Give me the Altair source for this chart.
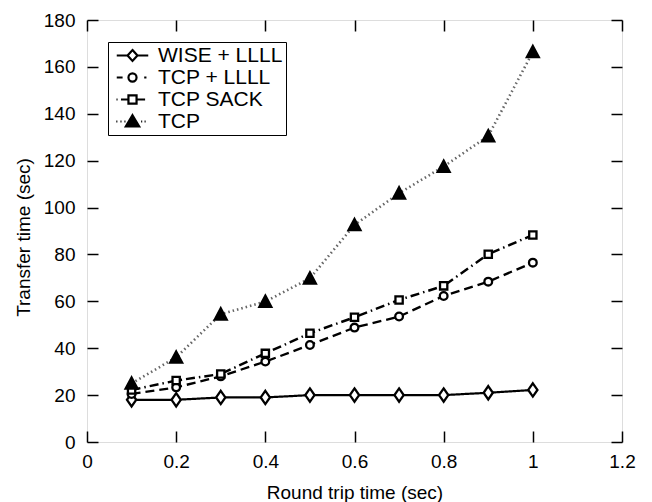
import altair as alt
import pandas as pd

# ---- data ----
rtt = [0.1, 0.2, 0.3, 0.4, 0.5, 0.6, 0.7, 0.8, 0.9, 1.0]
wise_llll = [18.0, 18.0, 19.0, 19.0, 20.0, 20.0, 20.0, 20.0, 21.0, 22.2]
tcp_llll = [20.5, 23.3, 28.0, 34.3, 41.4, 48.8, 53.5, 62.3, 68.4, 76.5]
tcp_sack = [22.2, 26.2, 29.0, 37.8, 46.4, 53.2, 60.6, 66.6, 80.1, 88.3]
tcp = [25.0, 36.1, 54.5, 59.9, 69.8, 92.6, 106.1, 117.5, 130.5, 166.4]

series_names = ["WISE + LLLL", "TCP + LLLL", "TCP SACK", "TCP"]
x_ticks = [0, 0.2, 0.4, 0.6, 0.8, 1.0, 1.2]
y_ticks = [0, 20, 40, 60, 80, 100, 120, 140, 160, 180]

rows = []
for name, vals in zip(series_names, [wise_llll, tcp_llll, tcp_sack, tcp]):
    for r, v in zip(rtt, vals):
        rows.append({"rtt": r, "time": v, "series": name})
df = pd.DataFrame(rows)

W, H = 535, 422
FONT = "Liberation Sans"

# styles
dash_range = [[1, 0], [9, 5], [9, 4, 1.5, 4], [1.5, 3]]
line_colors = ["black", "black", "black", "#666666"]
width_range = [2.2, 2.6, 2.2, 1.8]
fill_range = ["white", "white", "white", "black"]
stroke_range = ["black", "black", "black", "black"]
marker_paths = [
    "M0,-0.95L0.66,0L0,0.95L-0.66,0Z",
    "M0.55,0A0.55,0.55 0 1,1 -0.55,0A0.55,0.55 0 1,1 0.55,0Z",
    "M-0.52,-0.52H0.52V0.52H-0.52Z",
    "M0,-0.85L0.85,0.75L-0.85,0.75Z",
]
legend_paths = [
    "M-1.75,0H-0.55M0.55,0H1.75M0,-0.6L0.55,0L0,0.6L-0.55,0Z",
    "M-1.75,0H-1.1M1.3,0H1.55M0.45,0A0.45,0.45 0 1,1 -0.45,0A0.45,0.45 0 1,1 0.45,0Z",
    "M-1.78,0H-1.66M-1.28,0H-0.45M0.45,0H1.4M-0.45,-0.45H0.45V0.45H-0.45Z",
    "M-1.8,0H-1.68M-1.34,0H-1.22M-0.9,0H-0.78M0.96,0H1.08M1.34,0H1.46M0,-0.7L0.74,0.55L-0.74,0.55Z",
]

xs = alt.Scale(domain=[0, 1.2], nice=False, zero=False)
ys = alt.Scale(domain=[0, 180], nice=False, zero=False)

base = alt.Chart(df)

# layer 1: lines + labelled axes
lines = base.mark_line().encode(
    x=alt.X("rtt:Q", scale=xs, axis=alt.Axis(
        orient="bottom", values=x_ticks, format="~g", ticks=False, tickSize=0, domain=False, grid=False,
        labelPadding=10, labelFontSize=19, labelFont=FONT, labelColor="black",
        title="Round trip time (sec)", titleFont=FONT, titleFontSize=19,
        titleFontWeight="normal", titleColor="black", titleBaseline="alphabetic",
        titleY=56, labelFlush=False, labelOverlap=False)),
    y=alt.Y("time:Q", scale=ys, axis=alt.Axis(
        orient="left", values=y_ticks, ticks=False, tickSize=0, domain=False, grid=False,
        labelPadding=12, labelFontSize=19, labelFont=FONT, labelColor="black",
        title="Transfer time (sec)", titleFont=FONT, titleFontSize=19,
        titleFontWeight="normal", titleColor="black", titleX=-54, titleY=217,
        labelFlush=False, labelOverlap=False)),
    strokeDash=alt.StrokeDash("series:N", scale=alt.Scale(domain=series_names, range=dash_range), legend=None),
    color=alt.Color("series:N", scale=alt.Scale(domain=series_names, range=line_colors), legend=None),
    strokeWidth=alt.StrokeWidth("series:N", scale=alt.Scale(domain=series_names, range=width_range), legend=None),
)

# layer 2: markers + inward ticks on bottom and left edges
points = base.mark_point(filled=True, stroke="black", strokeWidth=2.3, size=196, opacity=1).encode(
    x=alt.X("rtt:Q", scale=xs, axis=alt.Axis(
        orient="top", offset=-H, values=x_ticks, ticks=True, tickSize=11, tickWidth=1.5,
        tickColor="black", labels=False, domain=False, grid=False, title=None)),
    y=alt.Y("time:Q", scale=ys, axis=alt.Axis(
        orient="right", offset=-W, values=y_ticks, ticks=True, tickSize=11, tickWidth=1.5,
        tickColor="black", labels=False, domain=False, grid=False, title=None)),
    shape=alt.Shape("series:N", scale=alt.Scale(domain=series_names, range=marker_paths), legend=None),
    fill=alt.Fill("series:N", scale=alt.Scale(domain=series_names, range=fill_range), legend=None),
)

leg = alt.Legend(
    orient="none", legendX=21, legendY=22, direction="vertical", title=None,
    padding=3, strokeColor="black", fillColor="white",
    labelFont=FONT, labelFontSize=21, labelColor="black",
    symbolSize=324, symbolStrokeColor="black", symbolStrokeWidth=2.2, symbolOpacity=1,
    symbolOffset=11, labelOffset=15, rowPadding=0,
)

# layer 3: legend + inward ticks on top and right edges
legend_layer = base.transform_filter("false").mark_point(
    filled=True, strokeWidth=2.2, size=324, opacity=1
).encode(
    x=alt.X("rtt:Q", scale=xs, axis=alt.Axis(
        orient="bottom", offset=-H, values=x_ticks, ticks=True, tickSize=11, tickWidth=1.5,
        tickColor="black", labels=False, domain=False, grid=False, title=None)),
    y=alt.Y("time:Q", scale=ys, axis=alt.Axis(
        orient="left", offset=-W, values=y_ticks, ticks=True, tickSize=11, tickWidth=1.5,
        tickColor="black", labels=False, domain=False, grid=False, title=None)),
    shape=alt.Shape("series:N", scale=alt.Scale(domain=series_names, range=legend_paths), legend=leg),
    fill=alt.Fill("series:N", scale=alt.Scale(domain=series_names, range=fill_range), legend=leg),
    stroke=alt.Stroke("series:N", scale=alt.Scale(domain=series_names, range=stroke_range), legend=leg),
)

chart = alt.layer(lines, points, legend_layer).resolve_scale(
    shape="independent", fill="independent", stroke="independent"
).resolve_axis(
    x="independent", y="independent"
).properties(
    width=W, height=H,
    autosize=alt.AutoSizeParams(type="none"),
    padding={"left": 87, "top": 20, "right": 30, "bottom": 60},
).configure_view(
    stroke="black", strokeWidth=1.5
).configure(background="white")

chart.save("out.html", embed_options={"renderer": "svg", "actions": False})
